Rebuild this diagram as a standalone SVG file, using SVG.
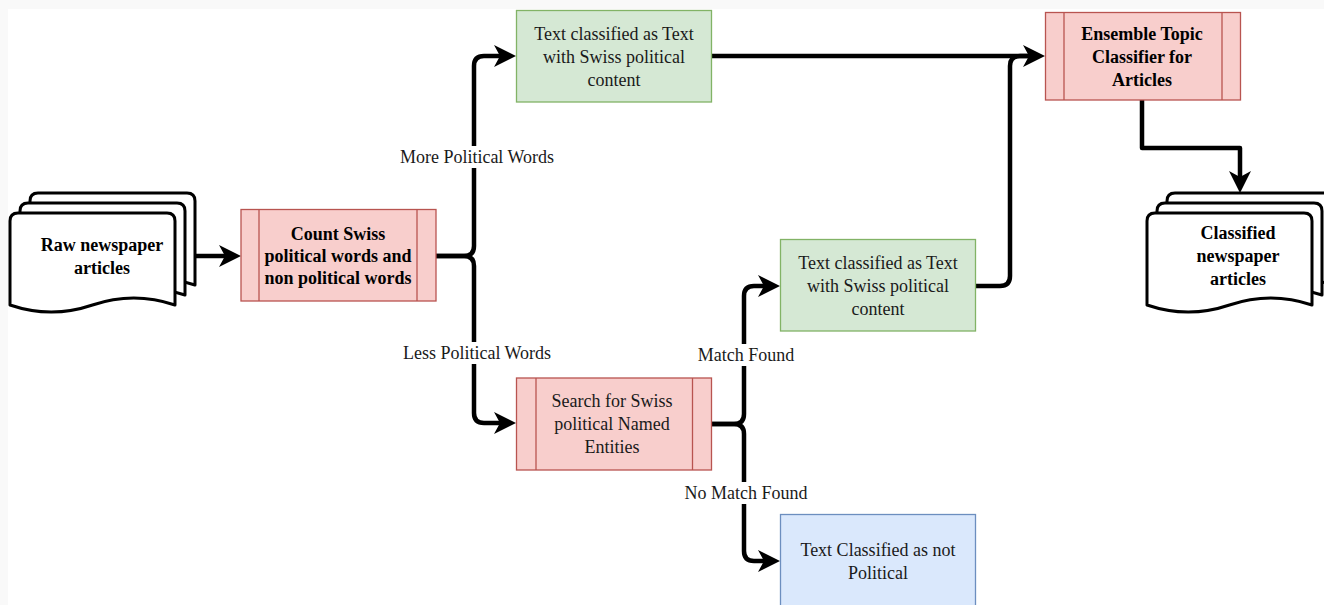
<svg xmlns="http://www.w3.org/2000/svg" width="1324" height="605" viewBox="0 0 1324 605">
<defs>
<style>
.proc{fill:#f8cecc;stroke:#b85450;stroke-width:1.3}
.green{fill:#d5e8d4;stroke:#82b366;stroke-width:1.3}
.blue{fill:#dae8fc;stroke:#6c8ebf;stroke-width:1.3}
.doc{fill:#ffffff;stroke:#000000;stroke-width:3;stroke-linejoin:round}
text{font-family:'Liberation Serif','Times New Roman',Tinos,'DejaVu Serif',serif;font-size:18px;fill:#1a1a1a;text-anchor:middle}
.b{font-weight:bold;fill:#000}
.edge{fill:none;stroke:#000;stroke-width:4.5;stroke-linejoin:round}
</style>
<marker id="arr" markerUnits="userSpaceOnUse" markerWidth="24" markerHeight="24" refX="6" refY="11" orient="auto" viewBox="0 0 24 22">
<path d="M0,0 L22,11 L0,22 L6,11 Z" fill="#000"/>
</marker>
<path id="docshape" d="M0,8 Q0,0 8,0 L157,0 Q165,0 165,8 L165,92 Q123.75,78 82.5,92 Q41.25,106 0,92 Z"/>
</defs>
<rect x="0" y="0" width="1324" height="605" fill="#f9f9f9"/>
<rect x="8" y="9" width="1316" height="596" fill="#ffffff"/>

<g id="connectors">
<path class="edge" d="M195,256 H225" marker-end="url(#arr)"/>
<path class="edge" d="M436,256 H464 Q474,256 474,246 V66 Q474,56 484,56 H500" marker-end="url(#arr)"/>
<path class="edge" d="M436,256 H464 Q474,256 474,266 V413 Q474,423 484,423 H500" marker-end="url(#arr)"/>
<path class="edge" d="M711,424 H734 Q744,424 744,414 V296 Q744,286 754,286 H764" marker-end="url(#arr)"/>
<path class="edge" d="M711,424 H734 Q744,424 744,434 V551 Q744,561 754,561 H764" marker-end="url(#arr)"/>
<path class="edge" d="M711,56 H1029" marker-end="url(#arr)"/>
<path class="edge" d="M975,286 H1000 Q1010,286 1010,276 V66 Q1010,56 1020,56 H1029"/>
<path class="edge" d="M1142,100 V148 H1240 V177" marker-end="url(#arr)"/>
<g id="edge-labels">
<rect x="396" y="146" width="162" height="22" fill="#fff"/>
<text x="477" y="163">More Political Words</text>
<rect x="400" y="342" width="156" height="22" fill="#fff"/>
<text x="477" y="359">Less Political Words</text>
<rect x="695" y="344" width="102" height="22" fill="#fff"/>
<text x="746" y="361">Match Found</text>
<rect x="682" y="482" width="128" height="22" fill="#fff"/>
<text x="746" y="499">No Match Found</text>
</g>
</g>

<g id="raw-articles">
<use href="#docshape" class="doc" x="30" y="193"/>
<use href="#docshape" class="doc" x="20" y="203"/>
<use href="#docshape" class="doc" x="10" y="213"/>
<text class="b" x="102" y="251">Raw newspaper</text>
<text class="b" x="102" y="274">articles</text>
</g>

<g id="count-words">
<rect class="proc" x="241" y="209.5" width="195" height="91.5"/>
<line class="proc" x1="259" y1="209.5" x2="259" y2="301"/>
<line class="proc" x1="417" y1="209.5" x2="417" y2="301"/>
<text class="b" x="338" y="240">Count Swiss</text>
<text class="b" x="338" y="262">political words and</text>
<text class="b" x="338" y="284">non political words</text>
</g>

<g id="text-political-1">
<rect class="green" x="516.5" y="10.5" width="195" height="91.5"/>
<text x="614" y="40">Text classified as Text</text>
<text x="614" y="63">with Swiss political</text>
<text x="614" y="86">content</text>
</g>

<g id="search-entities">
<rect class="proc" x="516.5" y="378" width="195" height="92"/>
<line class="proc" x1="536" y1="378" x2="536" y2="470"/>
<line class="proc" x1="692.5" y1="378" x2="692.5" y2="470"/>
<text x="612" y="407">Search for Swiss</text>
<text x="612" y="430">political Named</text>
<text x="612" y="453">Entities</text>
</g>

<g id="text-political-2">
<rect class="green" x="780.5" y="239.5" width="195" height="91.5"/>
<text x="878" y="269">Text classified as Text</text>
<text x="878" y="292">with Swiss political</text>
<text x="878" y="315">content</text>
</g>

<g id="not-political">
<rect class="blue" x="780.5" y="514.5" width="195" height="100"/>
<text x="878" y="556">Text Classified as not</text>
<text x="878" y="579">Political</text>
</g>

<g id="ensemble-classifier">
<rect class="proc" x="1045.5" y="12.5" width="195" height="87.5"/>
<line class="proc" x1="1064" y1="12.5" x2="1064" y2="100"/>
<line class="proc" x1="1222" y1="12.5" x2="1222" y2="100"/>
<text class="b" x="1142" y="40">Ensemble Topic</text>
<text class="b" x="1142" y="63">Classifier for</text>
<text class="b" x="1142" y="86">Articles</text>
</g>

<g id="classified-articles">
<use href="#docshape" class="doc" x="1167" y="193"/>
<use href="#docshape" class="doc" x="1157" y="203"/>
<use href="#docshape" class="doc" x="1147" y="213"/>
<text class="b" x="1238" y="239">Classified</text>
<text class="b" x="1238" y="262">newspaper</text>
<text class="b" x="1238" y="285">articles</text>
</g>
</svg>
